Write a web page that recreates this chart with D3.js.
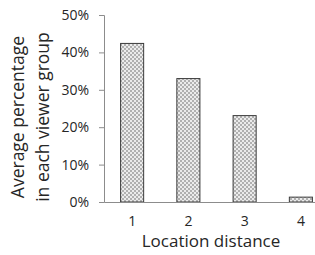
<!DOCTYPE html>
<html>
<head>
<meta charset="utf-8">
<script src="https://cdn.jsdelivr.net/npm/d3@7"></script>
<style>
body { margin: 0; background: #fff; }
text { font-family: "Open Sans", "Liberation Sans", sans-serif; fill: #262626; }
</style>
</head>
<body>
<script>
var width = 315,
    height = 255;

var categories = ["1", "2", "3", "4"];
var values = [0.424, 0.330, 0.231, 0.013];
var yTicks = [0, 0.1, 0.2, 0.3, 0.4, 0.5];

var svg = d3.select("body").append("svg")
    .attr("width", width)
    .attr("height", height);

// checker fill for the bars
var pat = svg.append("defs").append("pattern")
    .attr("id", "checker")
    .attr("width", 4)
    .attr("height", 4)
    .attr("patternUnits", "userSpaceOnUse");
pat.append("rect").attr("width", 4).attr("height", 4).attr("fill", "#ebebeb");
pat.append("rect").attr("width", 2).attr("height", 2).attr("fill", "#b0b0b0");
pat.append("rect").attr("x", 2).attr("y", 2).attr("width", 2).attr("height", 2).attr("fill", "#b0b0b0");

var x = d3.scaleBand()
    .domain(categories)
    .range([104, 329]);

var y = d3.scaleLinear()
    .domain([0, 0.5])
    .range([202, 15]);

// y axis
var yAxis = svg.append("g")
    .attr("transform", "translate(104,0)")
    .call(d3.axisLeft(y).tickValues(yTicks).tickFormat(d3.format(".0%")).tickSize(5).tickPadding(10));
yAxis.select(".domain").attr("stroke", "#8c8c8c");
yAxis.selectAll(".tick line").attr("stroke", "#8c8c8c");
yAxis.selectAll(".tick text")
    .attr("font-size", 14)
    .attr("fill", "#262626")
    .style("font-family", "'Open Sans', sans-serif");

// bars
var barW = x.bandwidth() * 0.41;
svg.selectAll(".bar")
    .data(values)
    .enter().append("rect")
    .attr("class", "bar")
    .attr("x", function (d, i) { return x(categories[i]) + x.bandwidth() / 2 - barW / 2; })
    .attr("y", function (d) { return y(d); })
    .attr("width", barW)
    .attr("height", function (d) { return y(0) - y(d); })
    .attr("fill", "url(#checker)")
    .attr("stroke", "#3a3a3a")
    .attr("stroke-width", 1);

// x axis
var xAxis = svg.append("g")
    .attr("transform", "translate(0,202)")
    .call(d3.axisBottom(x).tickSize(0).tickPadding(14));
xAxis.select(".domain").attr("stroke", "#8c8c8c");
xAxis.selectAll(".tick text")
    .attr("font-size", 14)
    .attr("fill", "#262626")
    .style("font-family", "'Open Sans', sans-serif");

// titles
svg.append("text")
    .attr("x", 211)
    .attr("y", 247)
    .attr("text-anchor", "middle")
    .attr("font-size", 17)
    .text("Location distance");

svg.append("text")
    .attr("transform", "translate(24,117) rotate(-90)")
    .attr("text-anchor", "middle")
    .attr("font-size", 17.5)
    .text("Average percentage");

svg.append("text")
    .attr("transform", "translate(49,117) rotate(-90)")
    .attr("text-anchor", "middle")
    .attr("font-size", 17.5)
    .text("in each viewer group");
</script>
</body>
</html>
